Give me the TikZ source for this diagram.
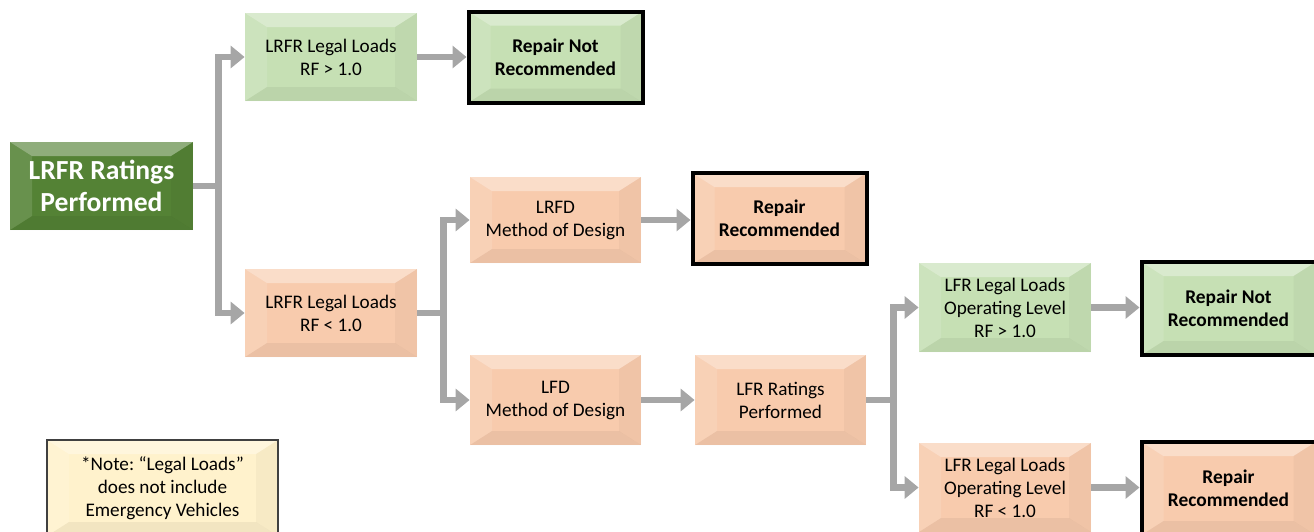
\documentclass[tikz,border=0pt]{standalone}
\usepackage{fontspec}
\setmainfont{Carlito}
\usetikzlibrary{arrows.meta}
\frenchspacing

\definecolor{darkgrn}{HTML}{548235}
\definecolor{litegrn}{HTML}{C6E0B4}
\definecolor{peach}{HTML}{F8CBAD}
\definecolor{cream}{HTML}{FFF2CC}
\definecolor{arrowgray}{HTML}{A6A6A6}

\tikzset{
	bevel/.style={path picture={
		\coordinate (p1) at (path picture bounding box.north west);
		\coordinate (p2) at (path picture bounding box.north east);
		\coordinate (p3) at (path picture bounding box.south east);
		\coordinate (p4) at (path picture bounding box.south west);
		\coordinate (q1) at ([shift={(11pt,-7pt)}]p1);
		\coordinate (q2) at ([shift={(-11pt,-7pt)}]p2);
		\coordinate (q3) at ([shift={(-11pt,7pt)}]p3);
		\coordinate (q4) at ([shift={(11pt,7pt)}]p4);
		\fill[white,opacity=.35] (p1) -- (p2) -- (q2) -- (q1) -- cycle;
		\fill[white,opacity=.12] (p1) -- (q1) -- (q4) -- (p4) -- cycle;
		\fill[black,opacity=.03] (p2) -- (p3) -- (q3) -- (q2) -- cycle;
		\fill[black,opacity=.05] (p4) -- (p3) -- (q3) -- (q4) -- cycle;
	}},
	box/.style={bevel,inner sep=0pt,align=center,minimum width=86pt,minimum height=44pt,
		font=\fontsize{9.6}{11.5}\selectfont},
	grnbox/.style={box,fill=litegrn},
	pchbox/.style={box,fill=peach},
	endbox/.style={box,draw=black,line width=2pt,minimum width=87pt,minimum height=45.5pt,
		font=\fontsize{9.7}{11.5}\selectfont\bfseries},
	conn/.style={draw=arrowgray,line width=3.3pt,-{Triangle[width=11pt,length=7pt]}},
	link/.style={draw=arrowgray,line width=3.3pt}
}

\begin{document}
\begin{tikzpicture}[x=0.5pt,y=-0.5pt]
	\useasboundingbox (0,0) rectangle (1314,531);

	% boxes
	\node[box,fill=darkgrn,text=white,minimum width=91.5pt,minimum height=44pt,
		font=\fontsize{13.8}{16}\selectfont\bfseries] (root) at (101.5,186) {LRFR Ratings\\Performed};
	\node[grnbox] (lrfrok) at (331,57) {LRFR Legal Loads\\RF > 1.0};
	\node[endbox,fill=litegrn] (notrep1) at (555.5,57) {Repair Not\\Recommended};
	\node[pchbox] (lrfrlow) at (331,313) {LRFR Legal Loads\\RF < 1.0};
	\node[pchbox,minimum width=85.5pt,minimum height=43pt] (lrfd) at (555.5,220) {LRFD\\Method of Design};
	\node[endbox,fill=peach] (rep1) at (779.5,218.5) {Repair\\Recommended};
	\node[pchbox,minimum width=85.5pt,minimum height=45pt] (lfd) at (555.5,400) {LFD\\Method of Design};
	\node[pchbox,minimum width=85.5pt,minimum height=45pt] (lfr) at (780.5,400) {LFR Ratings\\Performed};
	\node[grnbox,minimum height=44.5pt] (lfrok) at (1005,307.5) {LFR Legal Loads\\Operating Level\\RF > 1.0};
	\node[endbox,fill=litegrn,minimum height=46.5pt] (notrep2) at (1228.5,308.5) {Repair Not\\Recommended};
	\node[pchbox,minimum height=44.5pt] (lfrlow) at (1005,487.5) {LFR Legal Loads\\Operating Level\\RF < 1.0};
	\node[endbox,fill=peach,minimum height=46.5pt] (rep2) at (1228.5,488.5) {Repair\\Recommended};
	\node[box,fill=cream,draw=black!75,line width=0.8pt,minimum width=115.5pt,minimum height=48pt] (note) at (162.5,488) {*Note: “Legal Loads”\\does not include\\Emergency Vehicles};

	% connectors
	\draw[link] (root.east) -- ++(28.3,0);
	\draw[conn] (root.east) ++(25,0) |- (lrfrok.west);
	\draw[conn] (root.east) ++(25,0) |- (lrfrlow.west);
	\draw[conn] (lrfrok.east) -- (notrep1.west);
	\draw[link] (lrfrlow.east) -- ++(29.3,0);
	\draw[conn] (lrfrlow.east) ++(26,0) |- (lrfd.west);
	\draw[conn] (lrfrlow.east) ++(26,0) |- (lfd.west);
	\draw[conn] (lrfd.east) -- (lrfd.east -| rep1.west);
	\draw[conn] (lfd.east) -- (lfr.west);
	\draw[link] (lfr.east) -- ++(30.3,0);
	\draw[conn] (lfr.east) ++(27,0) |- (lfrok.west);
	\draw[conn] (lfr.east) ++(27,0) |- (lfrlow.west);
	\draw[conn] (lfrok.east) -- (lfrok.east -| notrep2.west);
	\draw[conn] (lfrlow.east) -- (lfrlow.east -| rep2.west);
\end{tikzpicture}
\end{document}
